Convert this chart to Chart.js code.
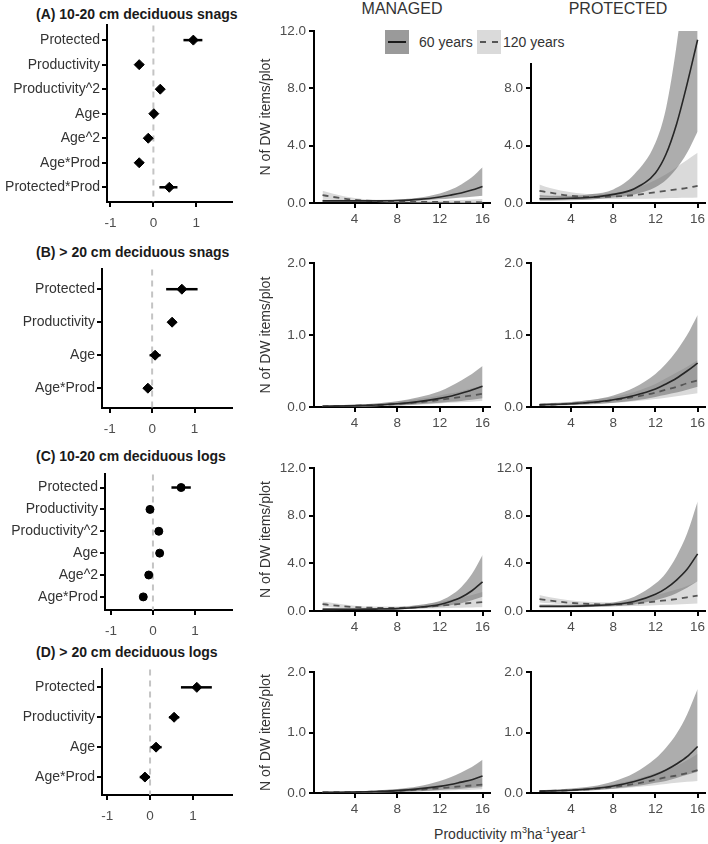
<!DOCTYPE html>
<html>
<head>
<meta charset="utf-8">
<script src="https://cdn.jsdelivr.net/npm/chart.js@4.4.1/dist/chart.umd.min.js"></script>
<style>
body { margin: 0; background: #fff; font-family: "Liberation Sans", Arial, sans-serif; }
#wrap { position: relative; width: 708px; height: 844px; overflow: hidden; }
.pane { position: absolute; }
.ttl { position: absolute; left: 36px; font-weight: bold; font-size: 14px; color: #1a1a1a; white-space: nowrap; }
.hdr { position: absolute; top: 0; font-size: 16px; color: #333; transform: translateX(-50%); white-space: nowrap; }
#legend { position: absolute; left: 383px; top: 26px; width: 190px; height: 37px; background: #fff; z-index: 5; font-size: 14px; color: #333; }
.key { position: absolute; top: 4px; width: 24px; height: 24px; }
.key i { position: absolute; left: 3px; right: 3px; top: 11px; border-top: 2px solid #1a1a1a; }
.key i.dash { border-top: 2px dashed #555; }
.lab { position: absolute; top: 8px; white-space: nowrap; }
#xtitle { position: absolute; left: 510px; top: 825px; transform: translateX(-50%); font-size: 14px; color: #333; white-space: nowrap; }
#xtitle sup { font-size: 9px; }
</style>
</head>
<body>
<div id="wrap">
  <div class="hdr" style="left:402px">MANAGED</div>
  <div class="hdr" style="left:618px">PROTECTED</div>
  <div class="ttl" style="top:6px">(A) 10-20 cm deciduous snags</div>
  <div class="ttl" style="top:244px">(B) &gt; 20 cm deciduous snags</div>
  <div class="ttl" style="top:448px">(C) 10-20 cm deciduous logs</div>
  <div class="ttl" style="top:644px">(D) &gt; 20 cm deciduous logs</div>
  <div id="legend">
    <div class="key" style="left:2px;background:#9a9a9a"><i></i></div>
    <div class="lab" style="left:36px">60 years</div>
    <div class="key" style="left:94px;background:#dadada"><i class="dash"></i></div>
    <div class="lab" style="left:120px">120 years</div>
  </div>
  <div id="xtitle">Productivity m<sup>3</sup>ha<sup>-1</sup>year<sup>-1</sup></div>
</div>
<script>
// coefficient plots
const catsA = ["Protected", "Productivity", "Productivity^2", "Age", "Age^2", "Age*Prod", "Protected*Prod"];
const estA = [0.93, -0.33, 0.16, 0.01, -0.12, -0.33, 0.37];
const loA = [0.70, -0.43, 0.09, -0.06, -0.19, -0.43, 0.14];
const hiA = [1.14, -0.23, 0.23, 0.08, -0.05, -0.23, 0.56];

const catsB = ["Protected", "Productivity", "Age", "Age*Prod"];
const estB = [0.70, 0.47, 0.07, -0.10];
const loB = [0.33, 0.37, -0.06, -0.20];
const hiB = [1.07, 0.57, 0.20, 0.00];

const catsC = ["Protected", "Productivity", "Productivity^2", "Age", "Age^2", "Age*Prod"];
const estC = [0.67, -0.07, 0.14, 0.16, -0.10, -0.23];
const loC = [0.44, -0.12, 0.10, 0.11, -0.15, -0.28];
const hiC = [0.90, -0.02, 0.18, 0.21, -0.05, -0.18];

const catsD = ["Protected", "Productivity", "Age", "Age*Prod"];
const estD = [1.09, 0.56, 0.14, -0.12];
const loD = [0.72, 0.44, 0.01, -0.24];
const hiD = [1.44, 0.68, 0.27, 0.00];

const coefTicks = [-1, 0, 1];

// predicted curves
const prod = [1, 2, 4, 6, 8, 10, 12, 13, 14, 15, 16];
const prodTicks = [4, 8, 12, 16];

const aMan60 = [0.15, 0.15, 0.15, 0.15, 0.17, 0.25, 0.42, 0.55, 0.7, 0.9, 1.15];
const aMan60Lo = [0.08, 0.08, 0.09, 0.1, 0.11, 0.16, 0.26, 0.32, 0.38, 0.44, 0.5];
const aMan60Hi = [0.25, 0.23, 0.21, 0.21, 0.24, 0.36, 0.66, 0.92, 1.3, 1.8, 2.5];
const aMan120 = [0.55, 0.42, 0.22, 0.13, 0.1, 0.08, 0.07, 0.065, 0.06, 0.055, 0.05];
const aMan120Lo = [0.3, 0.24, 0.12, 0.07, 0.05, 0.04, 0.03, 0.025, 0.02, 0.015, 0.01];
const aMan120Hi = [0.85, 0.65, 0.35, 0.22, 0.17, 0.16, 0.17, 0.19, 0.21, 0.24, 0.28];

const aPro60 = [0.3, 0.3, 0.33, 0.4, 0.6, 1.0, 2.1, 3.4, 5.5, 8.3, 11.4];
const aPro60Lo = [0.15, 0.16, 0.2, 0.25, 0.38, 0.6, 1.1, 1.6, 2.4, 3.5, 5.0];
const aPro60Hi = [0.55, 0.5, 0.5, 0.62, 0.95, 2.0, 4.2, 6.6, 11.0, 17, 25];
const aPro120 = [0.85, 0.72, 0.5, 0.42, 0.45, 0.55, 0.75, 0.85, 0.95, 1.05, 1.2];
const aPro120Lo = [0.45, 0.4, 0.3, 0.28, 0.28, 0.3, 0.32, 0.34, 0.35, 0.36, 0.38];
const aPro120Hi = [1.3, 1.05, 0.75, 0.62, 0.7, 1.0, 1.6, 2.0, 2.5, 3.0, 3.5];

const bMan60 = [0.01, 0.012, 0.018, 0.028, 0.045, 0.075, 0.12, 0.15, 0.19, 0.235, 0.29];
const bMan60Lo = [0.004, 0.005, 0.008, 0.013, 0.022, 0.038, 0.06, 0.072, 0.085, 0.1, 0.12];
const bMan60Hi = [0.02, 0.024, 0.034, 0.05, 0.08, 0.135, 0.22, 0.29, 0.37, 0.46, 0.57];
const bMan120 = [0.01, 0.012, 0.018, 0.027, 0.042, 0.065, 0.1, 0.12, 0.14, 0.16, 0.185];
const bMan120Lo = [0.004, 0.005, 0.008, 0.012, 0.02, 0.032, 0.05, 0.058, 0.066, 0.074, 0.082];
const bMan120Hi = [0.02, 0.024, 0.034, 0.05, 0.075, 0.11, 0.16, 0.19, 0.22, 0.26, 0.3];

const bPro60 = [0.03, 0.034, 0.045, 0.065, 0.1, 0.16, 0.25, 0.32, 0.4, 0.5, 0.61];
const bPro60Lo = [0.018, 0.02, 0.027, 0.04, 0.06, 0.09, 0.14, 0.17, 0.2, 0.24, 0.28];
const bPro60Hi = [0.05, 0.055, 0.07, 0.1, 0.16, 0.27, 0.46, 0.6, 0.78, 1.0, 1.28];
const bPro120 = [0.03, 0.034, 0.045, 0.063, 0.095, 0.14, 0.2, 0.24, 0.28, 0.33, 0.37];
const bPro120Lo = [0.015, 0.018, 0.025, 0.035, 0.055, 0.08, 0.11, 0.13, 0.15, 0.17, 0.19];
const bPro120Hi = [0.05, 0.055, 0.07, 0.1, 0.14, 0.21, 0.32, 0.4, 0.48, 0.56, 0.65];

const cMan60 = [0.15, 0.15, 0.15, 0.16, 0.2, 0.32, 0.55, 0.8, 1.15, 1.7, 2.45];
const cMan60Lo = [0.07, 0.07, 0.08, 0.09, 0.12, 0.2, 0.35, 0.48, 0.65, 0.9, 1.2];
const cMan60Hi = [0.28, 0.26, 0.24, 0.25, 0.3, 0.5, 0.85, 1.3, 2.0, 3.1, 4.7];
const cMan120 = [0.58, 0.48, 0.33, 0.27, 0.26, 0.32, 0.45, 0.52, 0.6, 0.68, 0.75];
const cMan120Lo = [0.35, 0.3, 0.2, 0.16, 0.15, 0.18, 0.24, 0.26, 0.28, 0.3, 0.32];
const cMan120Hi = [0.8, 0.68, 0.45, 0.38, 0.38, 0.5, 0.78, 0.95, 1.15, 1.35, 1.6];

const cPro60 = [0.4, 0.4, 0.4, 0.45, 0.55, 0.8, 1.4, 1.9, 2.6, 3.5, 4.8];
const cPro60Lo = [0.28, 0.28, 0.3, 0.33, 0.4, 0.55, 0.9, 1.15, 1.5, 1.95, 2.5];
const cPro60Hi = [0.55, 0.54, 0.52, 0.58, 0.72, 1.2, 2.3, 3.2, 4.6, 6.5, 9.2];
const cPro120 = [1.0, 0.88, 0.68, 0.58, 0.55, 0.62, 0.8, 0.9, 1.0, 1.15, 1.3];
const cPro120Lo = [0.72, 0.65, 0.5, 0.43, 0.4, 0.42, 0.48, 0.52, 0.55, 0.58, 0.62];
const cPro120Hi = [1.35, 1.15, 0.88, 0.75, 0.72, 0.9, 1.3, 1.55, 1.8, 2.1, 2.5];

const dMan60 = [0.01, 0.012, 0.016, 0.024, 0.04, 0.068, 0.11, 0.14, 0.18, 0.22, 0.28];
const dMan60Lo = [0.004, 0.005, 0.007, 0.011, 0.018, 0.03, 0.05, 0.06, 0.072, 0.085, 0.1];
const dMan60Hi = [0.02, 0.022, 0.03, 0.042, 0.065, 0.11, 0.2, 0.26, 0.34, 0.43, 0.55];
const dMan120 = [0.01, 0.012, 0.016, 0.022, 0.035, 0.055, 0.08, 0.095, 0.11, 0.125, 0.14];
const dMan120Lo = [0.004, 0.005, 0.007, 0.01, 0.016, 0.025, 0.036, 0.042, 0.048, 0.054, 0.06];
const dMan120Hi = [0.02, 0.022, 0.028, 0.038, 0.06, 0.09, 0.13, 0.155, 0.18, 0.21, 0.25];

const dPro60 = [0.03, 0.035, 0.045, 0.07, 0.115, 0.19, 0.3, 0.38, 0.48, 0.6, 0.77];
const dPro60Lo = [0.02, 0.022, 0.03, 0.045, 0.07, 0.11, 0.17, 0.2, 0.25, 0.3, 0.35];
const dPro60Hi = [0.05, 0.055, 0.075, 0.11, 0.19, 0.33, 0.57, 0.75, 0.98, 1.3, 1.72];
const dPro120 = [0.03, 0.035, 0.045, 0.065, 0.1, 0.15, 0.22, 0.26, 0.29, 0.33, 0.38];
const dPro120Lo = [0.015, 0.02, 0.028, 0.04, 0.065, 0.095, 0.13, 0.15, 0.17, 0.185, 0.2];
const dPro120Hi = [0.045, 0.05, 0.065, 0.095, 0.145, 0.22, 0.33, 0.39, 0.45, 0.54, 0.65];

Chart.defaults.font.family = '"Liberation Sans", Arial, sans-serif';
Chart.defaults.animation = false;
Chart.defaults.plugins.legend.display = false;
Chart.defaults.plugins.tooltip.enabled = false;

const PAD = 10;
const wrap = document.getElementById("wrap");

function pane(left, top, w, h) {
    const d = document.createElement("div");
    d.className = "pane";
    d.style.left = left + "px";
    d.style.top = top + "px";
    const c = document.createElement("canvas");
    c.width = w;
    c.height = h;
    c.style.width = w + "px";
    c.style.height = h + "px";
    d.appendChild(c);
    wrap.appendChild(d);
    return c;
}

function axisStyle() {
    return {
        grid: { drawOnChartArea: false, drawTicks: true, tickLength: 5, color: "#000", lineWidth: 2 },
        border: { display: true, color: "#000", width: 2 }
    };
}

// error bars + dashed zero line for the coefficient plots
const coefPlugin = {
    id: "coef",
    beforeDatasetsDraw(chart) {
        const ctx = chart.ctx, x = chart.scales.x, y = chart.scales.y, a = chart.chartArea;
        const info = chart.config.options.plugins.coef;
        ctx.save();
        ctx.strokeStyle = "#c4c4c4";
        ctx.lineWidth = 2;
        ctx.setLineDash([6, 5]);
        const x0 = x.getPixelForValue(0);
        ctx.beginPath();
        ctx.moveTo(x0, a.top);
        ctx.lineTo(x0, a.bottom);
        ctx.stroke();
        ctx.setLineDash([]);
        ctx.strokeStyle = "#000";
        ctx.lineWidth = 2.5;
        info.lo.forEach((l, i) => {
            const py = y.getPixelForValue(i);
            ctx.beginPath();
            ctx.moveTo(x.getPixelForValue(l), py);
            ctx.lineTo(x.getPixelForValue(info.hi[i]), py);
            ctx.stroke();
        });
        ctx.restore();
    }
};

function coefChart(box, cats, est, lo, hi, xMin, xMax, shape) {
    const c = pane(0, box.T - PAD, box.R + PAD, box.B - box.T + PAD + 34);
    const n = cats.length;
    new Chart(c, {
        type: "scatter",
        data: { datasets: [{ data: est.map((v, i) => ({ x: v, y: i })), pointStyle: shape, pointRadius: shape === "circle" ? 4 : 5, backgroundColor: "#000", borderColor: "#000" }] },
        options: {
            responsive: false,
            layout: { padding: { top: PAD, right: PAD, left: 0, bottom: 0 } },
            plugins: { coef: { lo: lo, hi: hi } },
            scales: {
                x: Object.assign(axisStyle(), {
                    type: "linear", min: xMin, max: xMax,
                    afterBuildTicks: s => { s.ticks = coefTicks.map(v => ({ value: v })); },
                    afterFit: s => { s.height = 34; },
                    ticks: { color: "#4d4d4d", font: { size: 13.5 }, padding: 8, callback: v => String(v) }
                }),
                y: Object.assign(axisStyle(), {
                    type: "linear", reverse: true, min: -0.6, max: n - 0.4,
                    afterBuildTicks: s => { s.ticks = cats.map((t, i) => ({ value: i })); },
                    afterFit: s => { s.width = box.L; },
                    ticks: { color: "#333", font: { size: 14 }, padding: 2, callback: v => cats[Math.round(v)] }
                })
            }
        },
        plugins: [coefPlugin]
    });
}

function curveChart(box, leftW, yMax, yTicks, withTitle, s) {
    const c = pane(box.L - leftW, box.T - PAD, box.R - box.L + leftW + PAD, box.B - box.T + PAD + 30);
    const pts = a => prod.map((x, i) => ({ x: x, y: a[i] }));
    const band = (a, fill, col) => ({ data: pts(a), fill: fill, backgroundColor: col, borderColor: "rgba(0,0,0,0)", borderWidth: 0, pointRadius: 0 });
    new Chart(c, {
        type: "line",
        data: {
            datasets: [
                { data: pts(s[0]), borderColor: "#262626", borderWidth: 1.6, pointRadius: 0, fill: false },
                { data: pts(s[3]), borderColor: "#555", borderWidth: 1.8, borderDash: [6, 5], pointRadius: 0, fill: false },
                band(s[2], "+1", "rgba(105,105,105,0.55)"),
                band(s[1], false, "rgba(0,0,0,0)"),
                band(s[5], "+1", "#dadada"),
                band(s[4], false, "rgba(0,0,0,0)")
            ]
        },
        options: {
            responsive: false,
            layout: { padding: { top: PAD, right: PAD, left: 0, bottom: 0 } },
            elements: { line: { cubicInterpolationMode: "monotone" } },
            scales: {
                x: Object.assign(axisStyle(), {
                    type: "linear", min: 0.2, max: 16.7,
                    afterBuildTicks: sc => { sc.ticks = prodTicks.map(v => ({ value: v })); },
                    afterFit: sc => { sc.height = 30; },
                    ticks: { color: "#4d4d4d", font: { size: 13.5 }, padding: 3, callback: v => String(v) }
                }),
                y: Object.assign(axisStyle(), {
                    type: "linear", min: 0, max: yMax,
                    afterBuildTicks: sc => { sc.ticks = yTicks.map(v => ({ value: v })); },
                    afterFit: sc => { sc.width = leftW; },
                    ticks: { color: "#4d4d4d", font: { size: 13.5 }, padding: 3, callback: v => v.toFixed(1) },
                    title: { display: withTitle, text: "N of DW items/plot", color: "#333", font: { size: 14 }, padding: { top: 1, bottom: 2 } }
                })
            }
        }
    });
}

coefChart({ L: 107, R: 232, T: 25, B: 202 }, catsA, estA, loA, hiA, -1.08, 1.83, "rectRot");
coefChart({ L: 102, R: 232, T: 269, B: 408 }, catsB, estB, loB, hiB, -1.18, 1.88, "rectRot");
coefChart({ L: 105, R: 232, T: 474, B: 610 }, catsC, estC, loC, hiC, -1.14, 1.88, "circle");
coefChart({ L: 102, R: 232, T: 669, B: 795 }, catsD, estD, loD, hiD, -1.12, 1.91, "rectRot");

curveChart({ L: 314, R: 490, T: 30, B: 203 }, 57, 12, [0, 4, 8, 12], true, [aMan60, aMan60Lo, aMan60Hi, aMan120, aMan120Lo, aMan120Hi]);
curveChart({ L: 531, R: 705, T: 30, B: 203 }, 50, 12, [0, 4, 8], false, [aPro60, aPro60Lo, aPro60Hi, aPro120, aPro120Lo, aPro120Hi]);
curveChart({ L: 314, R: 490, T: 262, B: 407 }, 57, 2, [0, 1, 2], true, [bMan60, bMan60Lo, bMan60Hi, bMan120, bMan120Lo, bMan120Hi]);
curveChart({ L: 531, R: 705, T: 262, B: 407 }, 50, 2, [0, 1, 2], false, [bPro60, bPro60Lo, bPro60Hi, bPro120, bPro120Lo, bPro120Hi]);
curveChart({ L: 314, R: 490, T: 467, B: 611 }, 57, 12, [0, 4, 8, 12], true, [cMan60, cMan60Lo, cMan60Hi, cMan120, cMan120Lo, cMan120Hi]);
curveChart({ L: 531, R: 705, T: 467, B: 611 }, 50, 12, [0, 4, 8, 12], false, [cPro60, cPro60Lo, cPro60Hi, cPro120, cPro120Lo, cPro120Hi]);
curveChart({ L: 314, R: 490, T: 671, B: 793 }, 57, 2, [0, 1, 2], true, [dMan60, dMan60Lo, dMan60Hi, dMan120, dMan120Lo, dMan120Hi]);
curveChart({ L: 531, R: 705, T: 671, B: 793 }, 50, 2, [0, 1, 2], false, [dPro60, dPro60Lo, dPro60Hi, dPro120, dPro120Lo, dPro120Hi]);
</script>
</body>
</html>
